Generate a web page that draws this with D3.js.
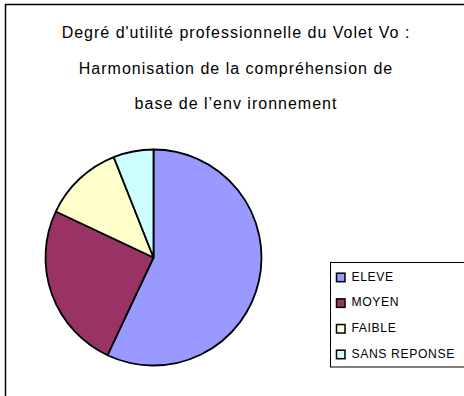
<!DOCTYPE html>
<html>
<head>
<meta charset="utf-8">
<script src="https://cdn.jsdelivr.net/npm/d3@7"></script>
<style>
  html, body { margin: 0; padding: 0; background: #fff; }
  svg { display: block; }
  text { font-family: "Liberation Sans", Arial, sans-serif; fill: #000; }
</style>
</head>
<body>
<svg id="chart" width="464" height="396"></svg>
<script>
// Survey answers: share of respondents per level of usefulness (%)
const categories = ["ELEVE", "MOYEN", "FAIBLE", "SANS REPONSE"];
const values = [57, 25, 12, 6];
const colors = ["#9999FF", "#993366", "#FFFFCC", "#CCFFFF"];
const titleLines = [
  "Degré d'utilité professionnelle du Volet Vo :",
  "Harmonisation de la compréhension de",
  "base de l’env ironnement"
];

const svg = d3.select("#chart");

// Chart frame (right and bottom edges fall outside the view)
svg.append("rect")
  .attr("x", 5.5).attr("y", 4.5)
  .attr("width", 470).attr("height", 400)
  .attr("fill", "#fff")
  .attr("stroke", "#000").attr("stroke-width", 1.5);

// Title
svg.append("g").selectAll("text")
  .data(titleLines)
  .join("text")
  .attr("x", 236)
  .attr("y", (d, i) => 37.7 + i * 35.8)
  .attr("text-anchor", "middle")
  .attr("font-size", 16)
  .attr("letter-spacing", 1)
  .text(d => d);

// Pie
const cx = 153.5, cy = 257.5, r = 108;
const pie = d3.pie().sort(null).value(d => d.value);
const arc = d3.arc().innerRadius(0).outerRadius(r);
const slices = pie(categories.map((c, i) => ({ name: c, value: values[i] })));

svg.append("g")
  .attr("transform", `translate(${cx},${cy})`)
  .selectAll("path")
  .data(slices)
  .join("path")
  .attr("d", arc)
  .attr("fill", (d, i) => colors[i])
  .attr("stroke", "#000")
  .attr("stroke-width", 1.8)
  .attr("stroke-linejoin", "round");

// Legend
const legend = svg.append("g");
legend.append("rect")
  .attr("x", 330.5).attr("y", 262.5)
  .attr("width", 140).attr("height", 104.5)
  .attr("fill", "#fff")
  .attr("stroke", "#000").attr("stroke-width", 1);

const rowY = d3.scalePoint().domain(categories).range([280.7, 357.7]);

const rows = legend.selectAll("g.row")
  .data(categories)
  .join("g")
  .attr("class", "row")
  .attr("transform", d => `translate(0,${rowY(d)})`);

rows.append("rect")
  .attr("x", 336.5).attr("y", -7.5)
  .attr("width", 8.5).attr("height", 8.5)
  .attr("fill", (d, i) => colors[i])
  .attr("stroke", "#000").attr("stroke-width", 1.5);

rows.append("text")
  .attr("x", 351.5)
  .attr("y", 0)
  .attr("font-size", 12.2)
  .attr("letter-spacing", 0.6)
  .text(d => d);
</script>
</body>
</html>
